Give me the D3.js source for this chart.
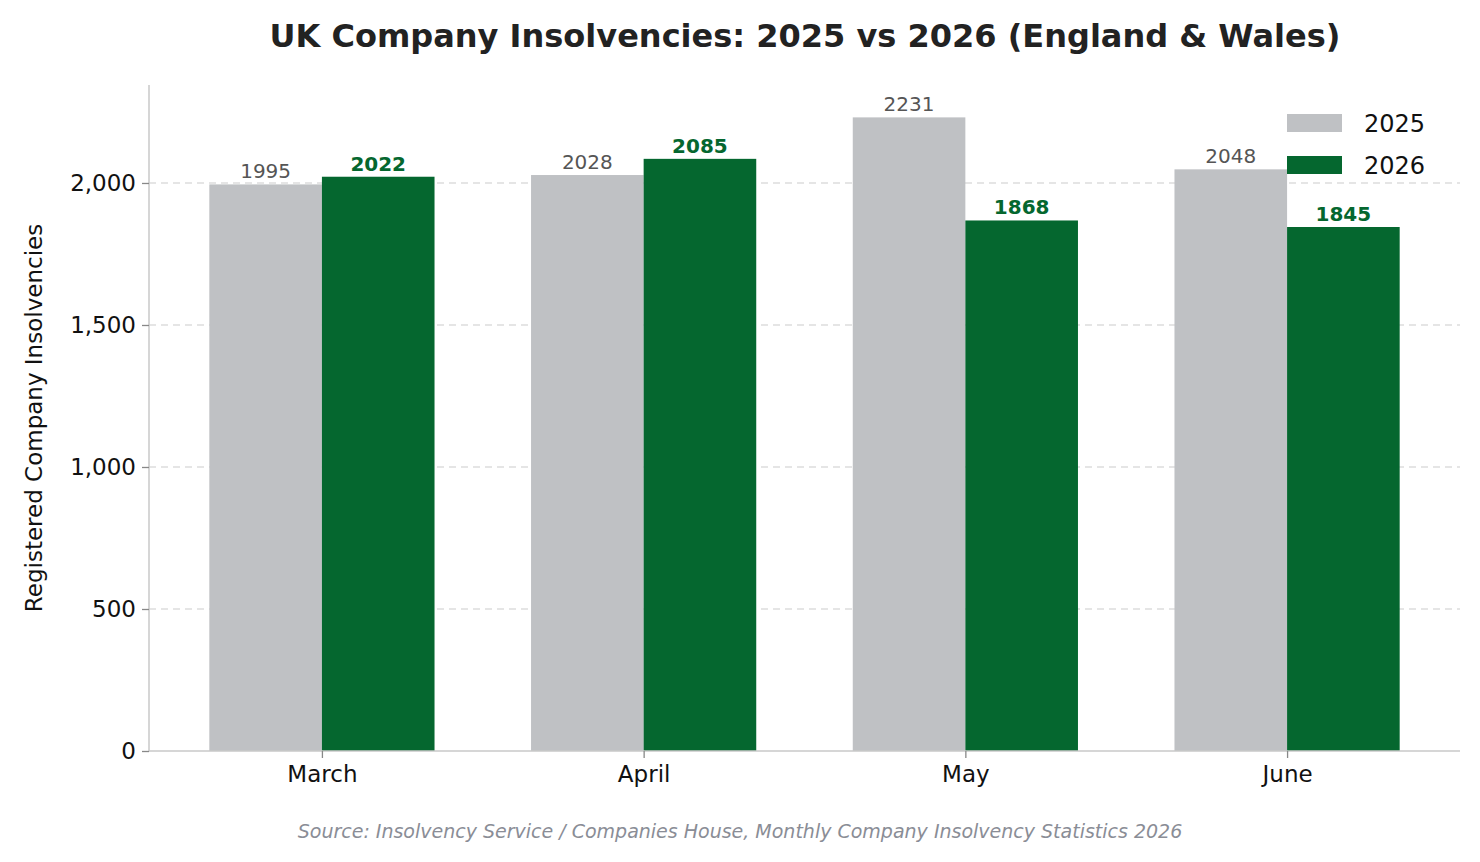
<!DOCTYPE html>
<html><head><meta charset="utf-8">
<script src="https://cdn.jsdelivr.net/npm/d3@7"></script>
<style>body{margin:0;background:#fff}svg{font-family:"DejaVu Sans",sans-serif}</style>
</head><body>
<script>
const months = ["March", "April", "May", "June"];
const values2025 = [1995, 2028, 2231, 2048];
const values2026 = [2022, 2085, 1868, 1845];
const yTicks = [0, 500, 1000, 1500, 2000];

const W = 1480, H = 862;
const m = {left: 149, right: 1460, top: 85, bottom: 751};
const svg = d3.select("body").append("svg").attr("width", W).attr("height", H);

const x = d3.scaleLinear().domain([-0.5375, 3.5375]).range([m.left, m.right]);
const y = d3.scaleLinear().domain([0, 2345]).range([m.bottom, m.top]);
const bw = 0.35;
const grey = "#bfc1c4", green = "#05672f";

// grid
svg.append("g").selectAll("line").data(yTicks.slice(1)).join("line")
  .attr("x1", m.left).attr("x2", m.right)
  .attr("y1", d => y(d)).attr("y2", d => y(d))
  .attr("stroke", "#ddd").attr("stroke-width", 1.3).attr("stroke-dasharray", "7,5");

// bars
const series = [
  {vals: values2025, off: -bw / 2, color: grey, lab: "#555", weight: "normal"},
  {vals: values2026, off: bw / 2, color: green, lab: green, weight: "bold"}
];
series.forEach(s => {
  svg.append("g").selectAll("rect").data(s.vals).join("rect")
    .attr("x", (d, i) => x(i + s.off - bw / 2))
    .attr("width", x(bw) - x(0))
    .attr("y", d => y(d)).attr("height", d => y(0) - y(d))
    .attr("fill", s.color);
  svg.append("g").selectAll("text").data(s.vals).join("text")
    .attr("x", (d, i) => x(i + s.off)).attr("y", d => y(d) - 6)
    .attr("text-anchor", "middle").attr("font-size", 20)
    .attr("font-weight", s.weight).attr("fill", s.lab).text(d => d);
});

// axes
const ya = svg.append("g").attr("transform", `translate(${m.left},0)`)
  .call(d3.axisLeft(y).tickValues(yTicks).tickSize(7).tickPadding(6));
const xa = svg.append("g").attr("transform", `translate(0,${m.bottom})`)
  .call(d3.axisBottom(x).tickValues([0, 1, 2, 3]).tickFormat(i => months[i]).tickSize(7).tickPadding(8));
[ya, xa].forEach(a => {
  a.select(".domain").attr("stroke", "#c8c8c8").attr("stroke-width", 1.5);
  a.selectAll(".tick line").attr("stroke", "#888").attr("stroke-width", 1.3);
  a.selectAll("text").attr("font-size", 23).attr("fill", "#111").attr("font-family", "DejaVu Sans");
});
ya.select(".domain").attr("d", `M0,${m.bottom}V${m.top}`);
xa.select(".domain").attr("d", `M${m.left},0H${m.right}`);

// labels
svg.append("text").attr("x", 805).attr("y", 47).attr("text-anchor", "middle")
  .attr("font-size", 32).attr("font-weight", "bold").attr("fill", "#222")
  .text("UK Company Insolvencies: 2025 vs 2026 (England & Wales)");
svg.append("text").attr("transform", "translate(42,418) rotate(-90)").attr("text-anchor", "middle")
  .attr("font-size", 23).attr("fill", "#111").text("Registered Company Insolvencies");
svg.append("text").attr("x", 740).attr("y", 838).attr("text-anchor", "middle")
  .attr("font-size", 19).attr("font-style", "italic").attr("fill", "#8a8d96")
  .text("Source: Insolvency Service / Companies House, Monthly Company Insolvency Statistics 2026");

// legend
const leg = [{t: "2025", c: grey}, {t: "2026", c: green}];
leg.forEach((l, i) => {
  svg.append("rect").attr("x", 1287).attr("y", 114 + i * 42).attr("width", 55).attr("height", 18).attr("fill", l.c);
  svg.append("text").attr("x", 1364).attr("y", 132 + i * 42).attr("font-size", 24).attr("fill", "#111").text(l.t);
});
</script>
</body></html>
